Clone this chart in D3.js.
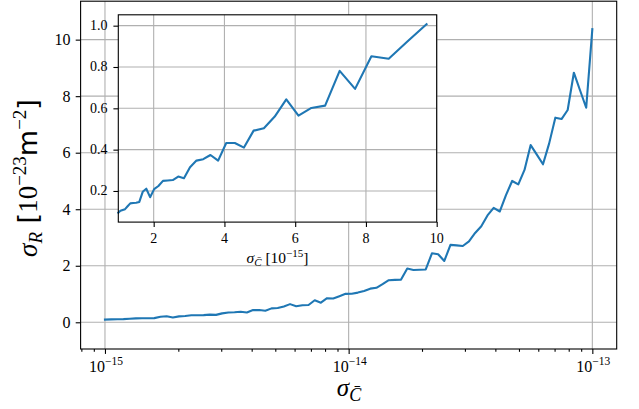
<!DOCTYPE html>
<html>
<head>
<meta charset="utf-8">
<script src="https://cdn.jsdelivr.net/npm/d3@7"></script>
<style>
  body { margin: 0; background: #fff; }
  svg { display: block; }
</style>
</head>
<body>
<svg id="chart" width="639" height="409"></svg>
<script>
// Sampling grid of sigma_C, in units of 1e-15 (log-spaced, 1e-15 .. 1e-13)
const sigmaC = [
  1.000, 1.060, 1.124, 1.191, 1.263, 1.338, 1.419, 1.504, 1.594, 1.690,
  1.791, 1.899, 2.013, 2.134, 2.262, 2.397, 2.541, 2.694, 2.856, 3.027,
  3.209, 3.401, 3.605, 3.822, 4.051, 4.294, 4.552, 4.825, 5.115, 5.422,
  5.748, 6.093, 6.458, 6.846, 7.257, 7.693, 8.154, 8.644, 9.163, 9.713,
  10.30, 10.91, 11.57, 12.26, 13.00, 13.78, 14.61, 15.48, 16.41, 17.40,
  18.44, 19.55, 20.72, 21.97, 23.29, 24.69, 26.17, 27.74, 29.40, 31.17,
  33.04, 35.02, 37.13, 39.36, 41.72, 44.22, 46.88, 49.69, 52.68, 55.84,
  59.19, 62.74, 66.51, 70.50, 74.74, 79.22, 83.98, 89.02, 94.37, 100.0
];
// sigma_R, in units of 1e-23 m^-2
const sigmaR = [
  0.095, 0.104, 0.108, 0.112, 0.126, 0.140, 0.142, 0.143, 0.147, 0.196,
  0.211, 0.170, 0.209, 0.224, 0.249, 0.251, 0.253, 0.270, 0.262, 0.315,
  0.347, 0.354, 0.374, 0.347, 0.432, 0.432, 0.410, 0.492, 0.504, 0.560,
  0.643, 0.565, 0.602, 0.613, 0.781, 0.694, 0.852, 0.840, 0.922, 1.007,
  1.01, 1.05, 1.11, 1.19, 1.22, 1.35, 1.49, 1.50, 1.51, 1.90,
  1.85, 1.86, 1.87, 2.44, 2.41, 2.17, 2.74, 2.72, 2.70, 2.86,
  3.16, 3.40, 3.78, 4.05, 3.92, 4.50, 5.00, 4.88, 5.39, 6.27,
  5.93, 5.59, 6.33, 7.24, 7.19, 7.51, 8.83, 8.21, 7.59, 10.37
];
const mainXTicks = [1e-15, 1e-14, 1e-13];
const mainXTickExp = ["−15", "−14", "−13"];
const mainYTicks = [0, 2, 4, 6, 8, 10];
const insetXTicks = [2, 4, 6, 8, 10];
const insetYTicks = [0.2, 0.4, 0.6, 0.8, 1.0];
const insetXMax = 10;

const SERIF = "'Liberation Serif', 'DejaVu Serif', serif";
const SANS = "'DejaVu Sans', sans-serif";
const BLUE = "#1f77b4";
const GRID = "#b0b0b0";

const svg = d3.select("#chart");

// ---------- main axes ----------
const M = { left: 80.6, right: 616.7, top: 1.2, bottom: 349 };
const x = d3.scaleLog().domain([10 ** -15.1, 10 ** -12.9]).range([M.left, M.right]);
const y = d3.scaleLinear().domain([-0.945, 11.36]).range([M.bottom, M.top]);

const main = svg.append("g");

// grid
main.append("g").selectAll("line").data(mainXTicks).join("line")
  .attr("x1", d => x(d)).attr("x2", d => x(d))
  .attr("y1", M.top).attr("y2", M.bottom)
  .attr("stroke", GRID).attr("stroke-width", 1.1);
main.append("g").selectAll("line").data(mainYTicks).join("line")
  .attr("x1", M.left).attr("x2", M.right)
  .attr("y1", d => y(d)).attr("y2", d => y(d))
  .attr("stroke", GRID).attr("stroke-width", 1.1);

// line
const pts = sigmaC.map((c, i) => [c * 1e-15, sigmaR[i]]);
main.append("path").datum(pts)
  .attr("fill", "none").attr("stroke", BLUE).attr("stroke-width", 2.1)
  .attr("stroke-linejoin", "round").attr("stroke-linecap", "square")
  .attr("d", d3.line().x(d => x(d[0])).y(d => y(d[1])));

// x axis: major + minor ticks
const xAxisMajor = d3.axisBottom(x).tickValues(mainXTicks).tickSize(4.9).tickFormat("");
const minor = [];
for (let e = -16; e <= -13; e++) for (let m = 2; m <= 9; m++) {
  const v = m * 10 ** e;
  if (v > x.domain()[0] && v < x.domain()[1]) minor.push(v);
}
const xAxisMinor = d3.axisBottom(x).tickValues(minor).tickSize(2.8).tickFormat("");
[xAxisMajor, xAxisMinor].forEach(ax => {
  const g = main.append("g").attr("transform", `translate(0,${M.bottom})`).call(ax);
  g.select(".domain").remove();
  g.selectAll("line").attr("stroke", "#000").attr("stroke-width", 1.1);
});
main.append("g").selectAll("text").data(mainXTicks).join("text")
  .attr("x", d => x(d) + 1).attr("y", 371.7)
  .attr("text-anchor", "middle").attr("font-family", SERIF).attr("font-size", 16)
  .each(function (d, i) {
    const t = d3.select(this);
    t.append("tspan").text("10");
    t.append("tspan").attr("font-size", 11.5).attr("dy", -7).text(mainXTickExp[i]);
  });

// y axis
const yAxis = d3.axisLeft(y).tickValues(mainYTicks).tickSize(4.9).tickFormat("");
const gy = main.append("g").attr("transform", `translate(${M.left},0)`).call(yAxis);
gy.select(".domain").remove();
gy.selectAll("line").attr("stroke", "#000").attr("stroke-width", 1.1);
main.append("g").selectAll("text").data(mainYTicks).join("text")
  .attr("x", 70.5).attr("y", d => y(d) + 5.5)
  .attr("text-anchor", "end").attr("font-family", SERIF).attr("font-size", 16)
  .text(d => d3.format("d")(d));

// frame
main.append("rect")
  .attr("x", M.left).attr("y", M.top)
  .attr("width", M.right - M.left).attr("height", M.bottom - M.top)
  .attr("fill", "none").attr("stroke", "#000").attr("stroke-width", 1.1);

// x label: sigma_{C-bar}
const xl = main.append("text")
  .attr("x", 349).attr("y", 396)
  .attr("text-anchor", "middle").attr("font-family", SERIF).attr("font-size", 25);
xl.append("tspan").attr("font-style", "italic").text("σ");
xl.append("tspan").attr("font-style", "italic").attr("font-size", 18).attr("dy", 5).text("C\u0304");

// y label: sigma_R [10^-23 m^-2]
const yl = main.append("text")
  .attr("transform", "translate(37,178) rotate(-90)")
  .attr("text-anchor", "middle").attr("font-size", 27);
yl.append("tspan").attr("font-family", SERIF).attr("font-style", "italic").text("σ");
yl.append("tspan").attr("font-family", SERIF).attr("font-style", "italic")
  .attr("font-size", 19).attr("dy", 5).text("R");
yl.append("tspan").attr("font-family", SANS).attr("dy", -5).text(" [");
yl.append("tspan").attr("font-family", SERIF).text("10");
yl.append("tspan").attr("font-family", SERIF).attr("font-size", 19).attr("dy", -11).text("−23");
yl.append("tspan").attr("font-family", SANS).attr("dy", 11).text("m");
yl.append("tspan").attr("font-family", SERIF).attr("font-size", 19).attr("dy", -11).text("−2");
yl.append("tspan").attr("font-family", SANS).attr("dy", 11).text("]");

// ---------- inset axes ----------
const I = { left: 118.3, right: 436.7, top: 14.8, bottom: 222.1 };
const xi = d3.scaleLinear().domain([1, insetXMax]).range([I.left, I.right]);
const yi = d3.scaleLinear().domain([0.0494, 1.0526]).range([I.bottom, I.top]);

const inset = svg.append("g");
inset.append("rect")
  .attr("x", I.left).attr("y", I.top)
  .attr("width", I.right - I.left).attr("height", I.bottom - I.top)
  .attr("fill", "#fff");

inset.append("g").selectAll("line").data(insetXTicks).join("line")
  .attr("x1", d => xi(d)).attr("x2", d => xi(d))
  .attr("y1", I.top).attr("y2", I.bottom)
  .attr("stroke", GRID).attr("stroke-width", 1.1);
inset.append("g").selectAll("line").data(insetYTicks).join("line")
  .attr("x1", I.left).attr("x2", I.right)
  .attr("y1", d => yi(d)).attr("y2", d => yi(d))
  .attr("stroke", GRID).attr("stroke-width", 1.1);

const insetPts = sigmaC.map((c, i) => [c, sigmaR[i]]).filter(d => d[0] <= insetXMax);
inset.append("path").datum(insetPts)
  .attr("fill", "none").attr("stroke", BLUE).attr("stroke-width", 2.1)
  .attr("stroke-linejoin", "round").attr("stroke-linecap", "square")
  .attr("d", d3.line().x(d => xi(d[0])).y(d => yi(d[1])));

const gxi = inset.append("g").attr("transform", `translate(0,${I.bottom})`)
  .call(d3.axisBottom(xi).tickValues(insetXTicks).tickSize(4.9).tickFormat(""));
gxi.select(".domain").remove();
gxi.selectAll("line").attr("stroke", "#000").attr("stroke-width", 1.1);
inset.append("g").selectAll("text").data(insetXTicks).join("text")
  .attr("x", d => xi(d)).attr("y", 242.8)
  .attr("text-anchor", "middle").attr("font-family", SERIF).attr("font-size", 14)
  .text(d => d);

const gyi = inset.append("g").attr("transform", `translate(${I.left},0)`)
  .call(d3.axisLeft(yi).tickValues(insetYTicks).tickSize(4.9).tickFormat(""));
gyi.select(".domain").remove();
gyi.selectAll("line").attr("stroke", "#000").attr("stroke-width", 1.1);
inset.append("g").selectAll("text").data(insetYTicks).join("text")
  .attr("x", 107.5).attr("y", d => yi(d) + 4.5)
  .attr("text-anchor", "end").attr("font-family", SERIF).attr("font-size", 14)
  .text(d => d3.format(".1f")(d));

inset.append("rect")
  .attr("x", I.left).attr("y", I.top)
  .attr("width", I.right - I.left).attr("height", I.bottom - I.top)
  .attr("fill", "none").attr("stroke", "#000").attr("stroke-width", 1.1);

const il = inset.append("text")
  .attr("x", (I.left + I.right) / 2).attr("y", 262.5)
  .attr("text-anchor", "middle").attr("font-family", SERIF).attr("font-size", 15.5);
il.append("tspan").attr("font-style", "italic").text("σ");
il.append("tspan").attr("font-style", "italic").attr("font-size", 11).attr("dy", 3).text("C\u0304");
il.append("tspan").attr("dy", -3).text(" [10");
il.append("tspan").attr("font-size", 11).attr("dy", -6).text("−15");
il.append("tspan").attr("dy", 6).text("]");
</script>
</body>
</html>
